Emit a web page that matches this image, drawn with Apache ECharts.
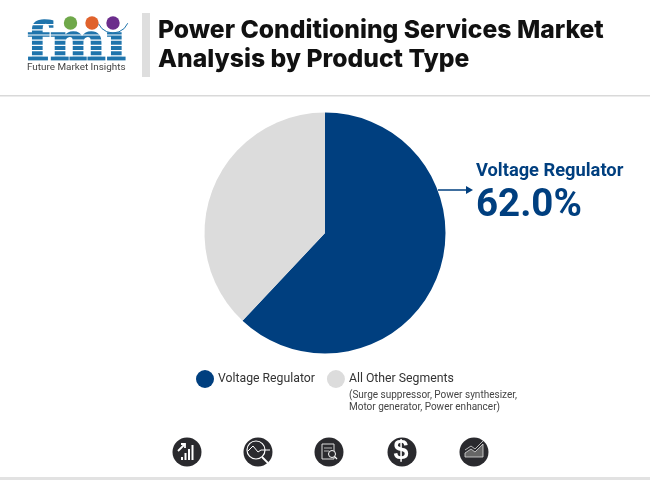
<!DOCTYPE html>
<html>
<head>
<meta charset="utf-8">
<style>html,body{margin:0;padding:0;background:#fff}#main{width:650px;height:480px}</style>
<script src="https://cdn.jsdelivr.net/npm/echarts@6/dist/echarts.min.js"></script>
</head>
<body>
<div id="main"></div>
<script>
var categories = ['Voltage Regulator', 'All Other Segments'];
var shares = [62.0, 38.0];
var sliceColors = ['#003f7f', '#dcdcdc'];
var titleLines = ['Power Conditioning Services Market', 'Analysis by Product Type'];
var noteLines = ['(Surge suppressor, Power synthesizer,', 'Motor generator, Power enhancer)'];
var iconCenters = [187, 258, 329, 402, 474];

var font = 'Roboto';
var dark = '#2a2a2e';
var g = [];

function text(x, y, str, size, weight, color, family, baseline) {
	g.push({ type: 'text', x: x, y: y, style: {
		text: str, fontFamily: family || font, fontSize: size, fontWeight: weight, fill: color, textVerticalAlign: baseline || 'middle'
	} });
}
function rect(x, y, w, h, color) {
	g.push({ type: 'rect', shape: { x: x, y: y, width: w, height: h }, style: { fill: color } });
}
function circle(x, y, r, color) {
	g.push({ type: 'circle', shape: { cx: x, cy: y, r: r }, style: { fill: color } });
}
function line(points, width, color) {
	g.push({ type: 'polyline', shape: { points: points }, style: { stroke: color || '#fff', lineWidth: width || 1.2, fill: null } });
}

// header
rect(142, 13, 8, 64, '#dedede');
text(158, 31, titleLines[0], 24.7, 800, '#111', 'Inter');
text(158, 60, titleLines[1], 24.7, 800, '#111', 'Inter');
rect(0, 95, 650, 1.5, '#d9d9d9');
rect(0, 477, 650, 3, '#e2e2e2');

// logo
g.push({ type: 'text', x: 27, y: 73, style: {
	text: 'fm\u0131', fontFamily: 'DejaVu Serif', fontSize: 53, fontWeight: 700,
	fill: '#1f74ac', stroke: '#1f74ac', lineWidth: 1.5, textVerticalAlign: 'bottom'
} });
for (var i = 0; i < 8; i++) {
	rect(26, 24 + i * 5.2, 102, 1.2, '#fff');
}
circle(70.5, 23, 6.7, '#6fa84a');
circle(92, 23, 6.7, '#e0622c');
circle(113, 23, 6.7, '#6b2d8c');
g.push({ type: 'arc', shape: { cx: 113, cy: 17, r: 16, startAngle: 0.4, endAngle: 2.7 }, style: { stroke: '#1f74ac', lineWidth: 1, fill: null } });
text(27, 68, 'Future Market Insights', 9.9, 400, '#444');

// callout
line([[438, 190], [468, 190]], 1.5, '#003f7f');
g.push({ type: 'polygon', shape: { points: [[466, 186], [473, 190], [466, 194]] }, style: { fill: '#003f7f' } });
text(476, 171, categories[0], 18.3, 700, '#003f7f');
text(476, 206, shares[0].toFixed(1) + '%', 38.5, 700, '#003f7f');

// legend note
text(349, 395, noteLines[0], 10, 400, '#444');
text(349, 407, noteLines[1], 10, 400, '#444');

// footer icons
iconCenters.forEach(function (x) { circle(x, 452, 14.5, dark); });
var a = iconCenters[0];
[0, 1, 2, 3].forEach(function (k) { rect(a - 6 + k * 3.5, 459 - 2 - k * 4, 2, 3 + k * 4, '#fff'); });
line([[a - 9, 451], [a - 2, 444]], 1.8);
line([[a - 6, 444], [a - 2, 444], [a - 2, 448]], 1.8);

var b = iconCenters[1];
g.push({ type: 'circle', shape: { cx: b - 2, cy: 450, r: 9 }, style: { stroke: '#fff', lineWidth: 1.2, fill: null } });
line([[b - 10, 451], [b - 5, 446], [b, 452], [b + 3, 450], [b + 12, 450]], 1);
line([[b + 4, 457], [b + 10, 463]], 1.8);

var c = iconCenters[2];
g.push({ type: 'rect', shape: { x: c - 7, y: 444, width: 12, height: 15 }, style: { stroke: '#ddd', lineWidth: 1, fill: null } });
line([[c - 5, 448], [c + 3, 448]], 0.8, '#ddd');
line([[c - 5, 451], [c, 451]], 0.8, '#ddd');
g.push({ type: 'circle', shape: { cx: c + 3, cy: 454, r: 3.5 }, style: { stroke: '#fff', lineWidth: 1, fill: dark } });
line([[c + 5.5, 456.5], [c + 8, 459]], 1.2);

var d = iconCenters[3];
text(d - 8.5, 452, '$', 27, 900, '#fff', 'Liberation Sans');

var e = iconCenters[4];
g.push({ type: 'polygon', shape: { points: [[e - 9, 457], [e - 9, 453], [e - 3, 449], [e + 1, 452], [e + 9, 444], [e + 9, 457]] }, style: { fill: '#666', stroke: '#ddd', lineWidth: 0.8 } });
line([[e - 9, 450], [e - 3, 446], [e + 1, 449], [e + 9, 441]], 0.8, '#ddd');

var chart = echarts.init(document.getElementById('main'), null, { renderer: 'canvas' });
chart.setOption({
	animation: false,
	color: sliceColors,
	legend: {
		left: 196,
		top: 370,
		padding: 0,
		orient: 'horizontal',
		icon: 'circle',
		itemWidth: 18,
		itemHeight: 18,
		itemGap: 12,
		textStyle: { fontFamily: font, fontSize: 12.25, color: '#333', padding: [0, 0, 0, -1] },
		data: categories
	},
	graphic: { elements: g },
	series: [{
		type: 'pie',
		center: [325, 233],
		radius: [0, 120.5],
		startAngle: 90,
		clockwise: true,
		silent: true,
		label: { show: false },
		labelLine: { show: false },
		data: categories.map(function (name, i) { return { name: name, value: shares[i] }; })
	}]
});
</script>
</body>
</html>
